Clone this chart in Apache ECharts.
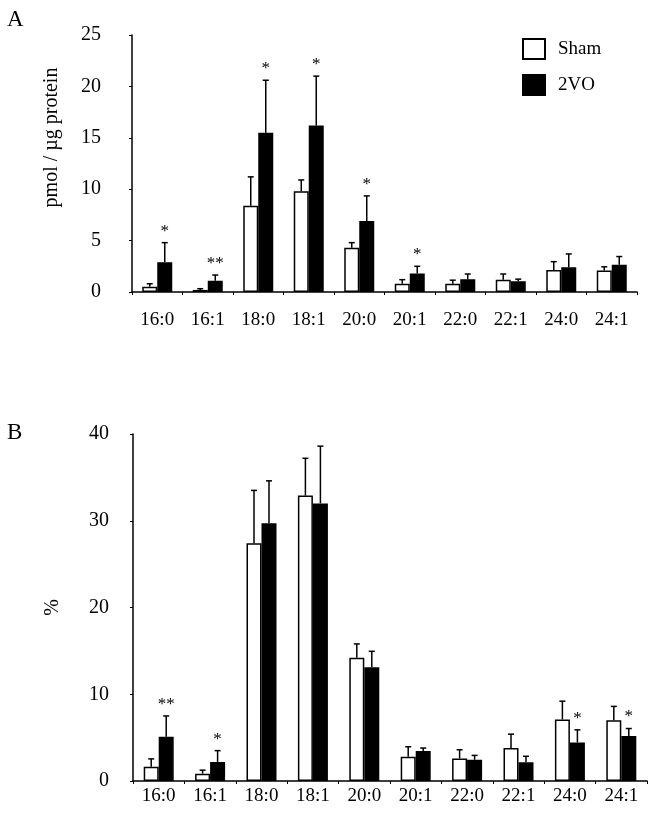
<!DOCTYPE html>
<html>
<head>
<meta charset="utf-8">
<script src="https://cdn.jsdelivr.net/npm/echarts@6/dist/echarts.min.js"></script>
<style>
  html, body { margin: 0; padding: 0; background: #fff; }
  #chart { width: 654px; height: 814px; }
</style>
</head>
<body>
<div id="chart"></div>
<script>
const categories = ['16:0', '16:1', '18:0', '18:1', '20:0', '20:1', '22:0', '22:1', '24:0', '24:1']

// panel A: pmol / ug protein
const shamA = [0.5, 0.2, 8.4, 9.8, 4.3, 0.8, 0.8, 1.2, 2.15, 2.1]
const shamAErr = [0.3, 0.12, 2.8, 1.1, 0.5, 0.4, 0.35, 0.55, 0.8, 0.35]
const voA = [2.9, 1.1, 15.5, 16.2, 6.9, 1.8, 1.25, 1.05, 2.4, 2.65]
const voAErr = [1.9, 0.55, 5.1, 4.8, 2.45, 0.7, 0.5, 0.2, 1.3, 0.8]
const starsA = ['*', '**', '*', '*', '*', '*', '', '', '', '']

// panel B: %
const shamB = [1.65, 0.85, 27.4, 32.9, 14.2, 2.8, 2.6, 3.8, 7.1, 7.0]
const shamBErr = [0.9, 0.4, 6.1, 4.3, 1.6, 1.15, 1.0, 1.6, 2.1, 1.6]
const voB = [5.1, 2.2, 29.7, 32.0, 13.1, 3.45, 2.45, 2.15, 4.45, 5.2]
const voBErr = [2.4, 1.3, 4.9, 6.6, 1.85, 0.35, 0.5, 0.7, 1.45, 0.85]
const starsB = ['**', '*', '', '', '', '', '', '', '*', '*']

const FONT = 'Liberation Serif'
const BAR_W = 15

const chart = echarts.init(document.getElementById('chart'))

function errSeries(idx, offset, vals, errs, stars) {
  return {
    type: 'custom',
    xAxisIndex: idx,
    yAxisIndex: idx,
    z: 5,
    silent: true,
    data: vals.map((v, i) => [i, v, errs[i]]),
    renderItem(params, api) {
      const i = api.value(0)
      const v = api.value(1)
      const e = api.value(2)
      const base = api.coord([i, v])
      const top = api.coord([i, v + e])
      const x = base[0] + offset
      const star = stars ? stars[params.dataIndex] : ''
      const style = { stroke: '#000', lineWidth: 1.5 }
      const children = [
        { type: 'line', shape: { x1: x, y1: base[1], x2: x, y2: top[1] }, style },
        { type: 'line', shape: { x1: x - 3, y1: top[1], x2: x + 3, y2: top[1] }, style },
      ]
      if (star) {
        children.push({
          type: 'text',
          style: {
            text: star, x: x, y: top[1] - 3,
            align: 'center', verticalAlign: 'bottom',
            font: '17px "' + FONT + '"', fill: '#000',
          },
        })
      }
      return { type: 'group', children }
    },
  }
}

function barSeries(name, idx, data, filled) {
  return {
    name,
    type: 'bar',
    xAxisIndex: idx,
    yAxisIndex: idx,
    data,
    barWidth: BAR_W,
    barGap: '0%',
    itemStyle: filled
      ? { color: '#000', borderColor: '#000', borderWidth: 1.5 }
      : { color: '#fff', borderColor: '#000', borderWidth: 1.5 },
  }
}

const axisLineStyle = { color: '#000', width: 1.5 }

function xAxisCfg(idx, margin) {
  return {
    type: 'category',
    gridIndex: idx,
    data: categories,
    axisLine: { lineStyle: axisLineStyle },
    axisTick: { show: true, length: 3, lineStyle: { color: '#000' } },
    axisLabel: { color: '#000', fontFamily: FONT, fontSize: 19, margin },
  }
}

function yAxisCfg(idx, max, interval, name, margin, pad) {
  return {
    type: 'value',
    gridIndex: idx,
    min: 0,
    max,
    interval,
    name,
    nameLocation: 'middle',
    nameGap: 70,
    nameTextStyle: { color: '#000', fontFamily: FONT, fontSize: 20, padding: pad },
    axisLine: { show: true, lineStyle: axisLineStyle },
    axisTick: { show: true, length: 3, lineStyle: { color: '#000' } },
    splitLine: { show: false },
    axisLabel: { color: '#000', fontFamily: FONT, fontSize: 20, margin },
  }
}

chart.setOption({
  animation: false,
  textStyle: { fontFamily: FONT },
  grid: [
    { left: 132, right: 17, top: 35, bottom: 522 },
    { left: 133, right: 7, top: 434, bottom: 33 },
  ],
  legend: {
    data: ['Sham', '2VO'],
    orient: 'vertical',
    left: 517,
    top: 33,
    icon: 'rect',
    itemWidth: 22,
    itemHeight: 20,
    itemGap: 14,
    textStyle: { color: '#000', fontFamily: FONT, fontSize: 19, padding: [0, 0, 0, 8] },
  },
  xAxis: [xAxisCfg(0, 19), xAxisCfg(1, 6)],
  yAxis: [
    yAxisCfg(0, 25, 5, 'pmol / µg protein', 31, [0, 0, 0, 52]),
    yAxisCfg(1, 40, 10, '%', 24, 0),
  ],
  graphic: [
    { type: 'text', left: 7, top: 8, style: { text: 'A', font: '23px "' + FONT + '"', fill: '#000' } },
    { type: 'text', left: 7, top: 421, style: { text: 'B', font: '23px "' + FONT + '"', fill: '#000' } },
  ],
  series: [
    barSeries('Sham', 0, shamA, false),
    barSeries('2VO', 0, voA, true),
    errSeries(0, -BAR_W / 2, shamA, shamAErr, null),
    errSeries(0, BAR_W / 2, voA, voAErr, starsA),
    barSeries('Sham', 1, shamB, false),
    barSeries('2VO', 1, voB, true),
    errSeries(1, -BAR_W / 2, shamB, shamBErr, null),
    errSeries(1, BAR_W / 2, voB, voBErr, starsB),
  ],
})
</script>
</body>
</html>
